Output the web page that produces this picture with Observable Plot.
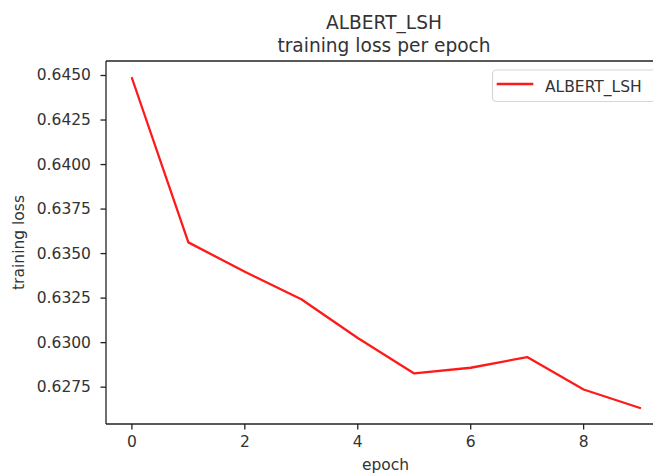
<!DOCTYPE html>
<html>
<head>
<meta charset="utf-8">
<script src="https://cdn.jsdelivr.net/npm/d3@7"></script>
<script src="https://cdn.jsdelivr.net/npm/@observablehq/plot@0.6"></script>
<style>
  html, body { margin: 0; padding: 0; background: #fff; }
  #chart svg { display: block; font-family: "DejaVu Sans", sans-serif; }
</style>
</head>
<body>
<div id="chart"></div>
<script>
const epochs = [0, 1, 2, 3, 4, 5, 6, 7, 8, 9];
const trainingLoss = [0.64486, 0.63563, 0.63398, 0.63244, 0.63026, 0.62827, 0.62859, 0.62919, 0.62737, 0.62633];
const xTicks = [0, 2, 4, 6, 8];
const yTicks = [0.6275, 0.6300, 0.6325, 0.6350, 0.6375, 0.6400, 0.6425, 0.6450];
const seriesName = "ALBERT_LSH";
const titleLines = ["ALBERT_LSH", "training loss per epoch"];
const xLabel = "epoch";
const yLabel = "training loss";

const data = epochs.map((e, i) => ({epoch: e, loss: trainingLoss[i]}));

// matplotlib-like 5% margins
const xMin = d3.min(epochs), xMax = d3.max(epochs);
const xPad = 0.05 * (xMax - xMin);
const yMin = d3.min(trainingLoss), yMax = d3.max(trainingLoss);
const yPad = 0.05 * (yMax - yMin);
const xDomain = [xMin - xPad, xMax + xPad];
const yDomain = [yMin - yPad, yMax + yPad];

const W = 653, H = 474;
const axL = 106, axR = 665, axT = 61, axB = 424;
const ink = "#333";

const chart = Plot.plot({
  width: W,
  height: H,
  marginLeft: axL,
  marginRight: 0,
  marginTop: axT,
  marginBottom: H - axB,
  style: {fontFamily: "DejaVu Sans, sans-serif", fontSize: "15.5px", color: ink, background: "white", overflow: "hidden"},
  x: {domain: xDomain, range: [axL, axR]},
  y: {domain: yDomain, range: [axB, axT]},
  marks: [
    Plot.axisX(xTicks, {tickSize: 5.5, tickPadding: 6, fontSize: 15.5, stroke: "#222", fill: ink, label: null, strokeWidth: 1.3, strokeOpacity: 1}),
    Plot.axisY(yTicks, {tickSize: 5.5, tickPadding: 10, fontSize: 15.5, stroke: "#222", fill: ink, label: null, strokeWidth: 1.3, strokeOpacity: 1, tickFormat: d => d.toFixed(4)}),
    Plot.line(data, {x: "epoch", y: "loss", stroke: "#ff1a1a", strokeWidth: 2.3, strokeLinejoin: "round"})
  ]
});

const svg = d3.select(chart);
// spines (left, top, bottom; right spine lies outside the cropped picture)
const sp = svg.append("g").attr("stroke", "#222").attr("stroke-width", 1.3).attr("fill", "none");
sp.append("line").attr("x1", axL).attr("x2", axL).attr("y1", axT).attr("y2", axB);
sp.append("line").attr("x1", axL).attr("x2", W).attr("y1", axT).attr("y2", axT);
sp.append("line").attr("x1", axL).attr("x2", W).attr("y1", axB).attr("y2", axB);
// titles
svg.append("text").attr("x", 384).attr("y", 28.5).attr("text-anchor", "middle")
  .attr("font-size", 18.6).attr("fill", ink).text(titleLines[0]);
svg.append("text").attr("x", 384).attr("y", 51.5).attr("text-anchor", "middle")
  .attr("font-size", 18.6).attr("fill", ink).text(titleLines[1]);
// axis labels
svg.append("text").attr("x", 385.5).attr("y", 469.5).attr("text-anchor", "middle")
  .attr("font-size", 15.5).attr("fill", ink).text(xLabel);
svg.append("text").attr("transform", `translate(24,${(axT + axB) / 2}) rotate(-90)`)
  .attr("text-anchor", "middle").attr("font-size", 15.5).attr("fill", ink).text(yLabel);
// legend
const lg = svg.append("g");
lg.append("rect").attr("x", 492.5).attr("y", 70).attr("width", 175).attr("height", 31.5)
  .attr("rx", 4).attr("fill", "white").attr("fill-opacity", 0.8).attr("stroke", "#d6d6d6").attr("stroke-width", 1.2);
lg.append("line").attr("x1", 496.7).attr("x2", 533.3).attr("y1", 84).attr("y2", 84)
  .attr("stroke", "#ff1a1a").attr("stroke-width", 2.3);
lg.append("text").attr("x", 545).attr("y", 91.5).attr("text-anchor", "start")
  .attr("font-size", 15.5).attr("fill", ink).text(seriesName);

document.getElementById("chart").appendChild(chart);
</script>
</body>
</html>
